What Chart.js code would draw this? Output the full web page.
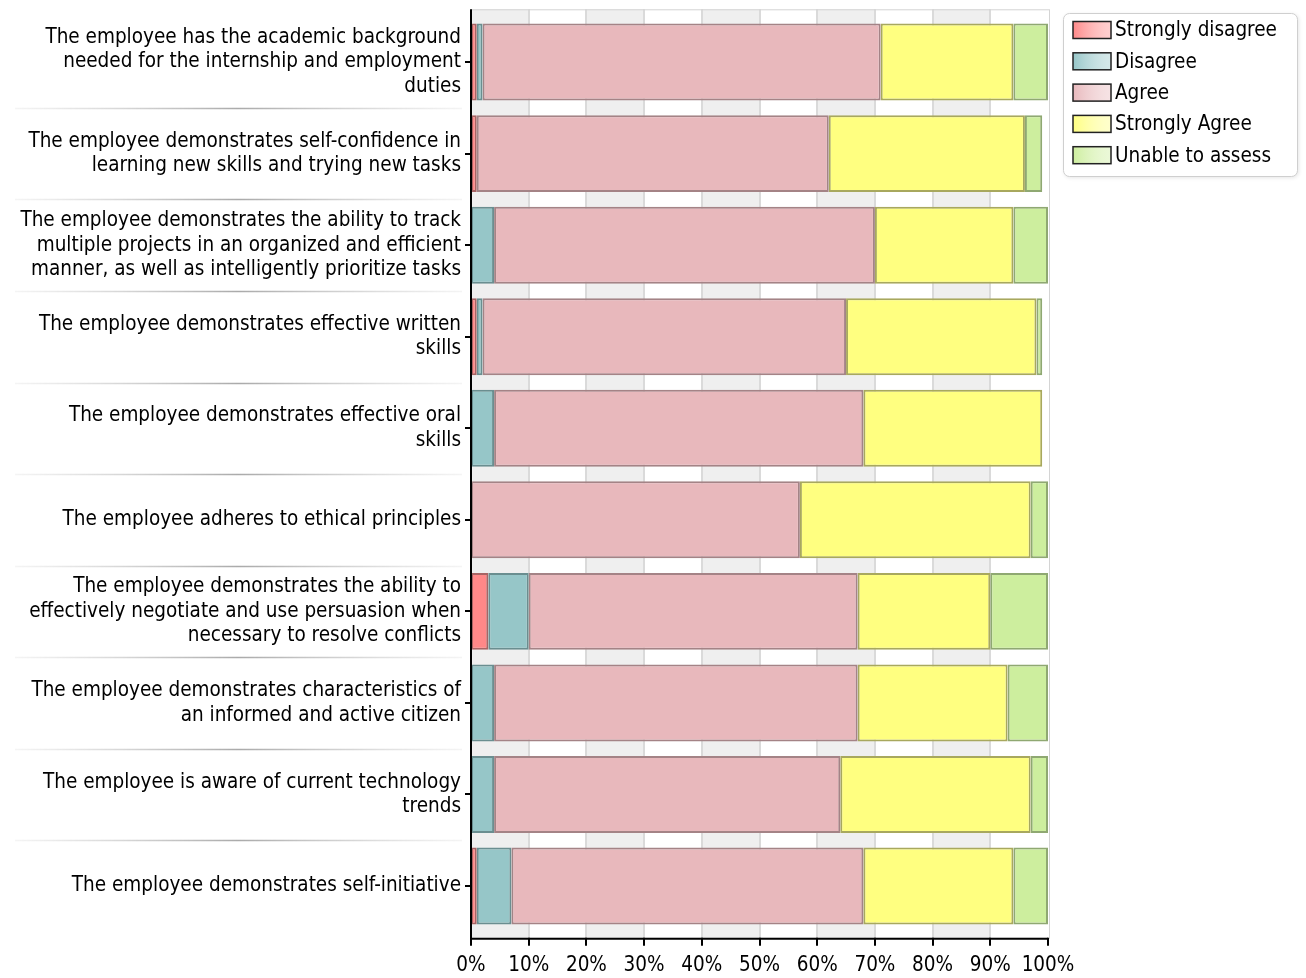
<!DOCTYPE html>
<html lang="en">
  <head>
    <meta charset="UTF-8" />
    <meta name="viewport" content="width=device-width, initial-scale=1.0" />
    <title>Employee evaluation</title>
    <style>
      html,
      body {
        margin: 0;
        padding: 0;
        background-color: white;
      }
      #chart-box {
        width: 1306px;
        height: 978px;
      }
    </style>
  </head>
  <body>
    <script src="https://cdn.jsdelivr.net/npm/chart.js@4.4.1/dist/chart.umd.min.js"></script>
    <div id="chart-box"><canvas id="bar-chart"></canvas></div>
    <script>
      var categories = [
        ["The employee has the academic background", "needed for the internship and employment", "duties"],
        ["The employee demonstrates self-confidence in", "learning new skills and trying new tasks"],
        ["The employee demonstrates the ability to track", "multiple projects in an organized and efficient", "manner, as well as intelligently prioritize tasks"],
        ["The employee demonstrates effective written", "skills"],
        ["The employee demonstrates effective oral", "skills"],
        "The employee adheres to ethical principles",
        ["The employee demonstrates the ability to", "effectively negotiate and use persuasion when", "necessary to resolve conflicts"],
        ["The employee demonstrates characteristics of", "an informed and active citizen"],
        ["The employee is aware of current technology", "trends"],
        "The employee demonstrates self-initiative",
      ];
      var seriesNames = ["Strongly disagree", "Disagree", "Agree", "Strongly Agree", "Unable to assess"];
      var stronglyDisagree = [1, 1, 0, 1, 0, 0, 3, 0, 0, 1];
      var disagree = [1, 0, 4, 1, 4, 0, 7, 4, 4, 6];
      var agree = [69, 61, 66, 63, 64, 57, 57, 63, 60, 61];
      var stronglyAgree = [23, 34, 24, 33, 31, 40, 23, 26, 33, 26];
      var unableToAssess = [6, 3, 6, 1, 0, 3, 10, 7, 3, 6];
      var xTickLabels = ["0%", "10%", "20%", "30%", "40%", "50%", "60%", "70%", "80%", "90%", "100%"];

      var fills = ["#ff8888", "#96c6c8", "#e8b8bc", "#ffff80", "#cdee9e"];
      var edges = ["#a86464", "#6a8e90", "#a48386", "#a8a85e", "#8fa872"];
      var FONT = "'DejaVu Sans Condensed', 'DejaVu Sans', sans-serif";
      var FONT_SIZE = 20.5;

      Chart.defaults.font.family = FONT;
      Chart.defaults.font.size = FONT_SIZE;
      Chart.defaults.color = "#000";

      // bands, grid lines, axes, label separators and the legend box
      var decorations = {
        id: "decorations",
        beforeDatasetsDraw: function (chart) {
          var ctx = chart.ctx;
          var a = chart.chartArea;
          var x = chart.scales.x;
          var top = a.top - 7;
          var bottom = a.bottom + 6;
          ctx.save();
          for (var i = 0; i < 10; i++) {
            var x0 = x.getPixelForValue(i * 10);
            var x1 = x.getPixelForValue(i * 10 + 10);
            ctx.fillStyle = i % 2 ? "#ffffff" : "#efefef";
            ctx.fillRect(x0, top, x1 - x0, bottom - top);
          }
          ctx.strokeStyle = "#dadada";
          ctx.lineWidth = 2;
          for (var j = 1; j < 10; j++) {
            var gx = Math.round(x.getPixelForValue(j * 10));
            ctx.beginPath();
            ctx.moveTo(gx, top);
            ctx.lineTo(gx, bottom);
            ctx.stroke();
          }
          ctx.strokeStyle = "#d4d4d4";
          ctx.lineWidth = 1;
          ctx.strokeRect(a.left + 0.5, top + 0.5, a.right - a.left + 1, bottom - top);
          ctx.restore();
        },
        afterDraw: function (chart) {
          var ctx = chart.ctx;
          var a = chart.chartArea;
          var x = chart.scales.x;
          var y = chart.scales.y;
          var top = a.top - 7;
          var bottom = a.bottom + 6;
          ctx.save();

          // separators between categories in the label area
          for (var i = 0; i < categories.length - 1; i++) {
            var sy = Math.round((y.getPixelForValue(i) + y.getPixelForValue(i + 1)) / 2) + 0.5;
            var g = ctx.createLinearGradient(15, 0, 462, 0);
            g.addColorStop(0, "rgba(200,200,200,0.2)");
            g.addColorStop(0.5, "rgba(170,170,170,1)");
            g.addColorStop(1, "rgba(200,200,200,0.2)");
            ctx.strokeStyle = g;
            ctx.lineWidth = 1.5;
            ctx.beginPath();
            ctx.moveTo(15, sy);
            ctx.lineTo(462, sy);
            ctx.stroke();
          }

          // axis lines
          ctx.strokeStyle = "#000";
          ctx.lineWidth = 2;
          ctx.beginPath();
          ctx.moveTo(a.left, top);
          ctx.lineTo(a.left, bottom + 1);
          ctx.lineTo(a.right, bottom + 1);
          ctx.stroke();
          for (var k = 0; k <= 10; k++) {
            var tx = Math.round(x.getPixelForValue(k * 10));
            ctx.beginPath();
            ctx.moveTo(tx, bottom);
            ctx.lineTo(tx, bottom + 8);
            ctx.stroke();
          }

          // legend
          var lx = 1063, ly = 13, lw = 234, lh = 163;
          ctx.shadowColor = "rgba(0,0,0,0.12)";
          ctx.shadowBlur = 4;
          ctx.shadowOffsetX = 1;
          ctx.shadowOffsetY = 1;
          ctx.fillStyle = "#fff";
          ctx.beginPath();
          ctx.roundRect(lx + 0.5, ly + 0.5, lw, lh, 6);
          ctx.fill();
          ctx.shadowColor = "transparent";
          ctx.strokeStyle = "#cfcfcf";
          ctx.lineWidth = 1;
          ctx.stroke();

          ctx.font = FONT_SIZE + "px " + FONT;
          ctx.textBaseline = "middle";
          ctx.textAlign = "left";
          chart.data.datasets.forEach(function (ds, n) {
            var cy = 30 + n * 31.3;
            var grad = ctx.createLinearGradient(1073, 0, 1111, 0);
            grad.addColorStop(0, ds.backgroundColor);
            grad.addColorStop(1, "rgba(255,255,255,0.6)");
            ctx.fillStyle = ds.backgroundColor;
            ctx.fillRect(1073, cy - 8.5, 38, 17);
            ctx.fillStyle = grad;
            ctx.fillRect(1073, cy - 8.5, 38, 17);
            ctx.strokeStyle = "#222";
            ctx.lineWidth = 1.5;
            ctx.strokeRect(1073, cy - 8.5, 38, 17);
            ctx.fillStyle = "#000";
            ctx.fillText(ds.label, 1115, cy + 1);
          });
          ctx.restore();
        },
      };

      var seriesValues = [stronglyDisagree, disagree, agree, stronglyAgree, unableToAssess];

      var chart = new Chart(document.getElementById("bar-chart"), {
        type: "bar",
        data: {
          labels: categories,
          datasets: seriesNames.map(function (name, i) {
            return {
              label: name,
              data: seriesValues[i],
              backgroundColor: fills[i],
              borderColor: edges[i],
              borderWidth: 2,
              borderSkipped: false,
              barPercentage: 0.84,
              categoryPercentage: 1,
            };
          }),
        },
        options: {
          indexAxis: "y",
          responsive: true,
          maintainAspectRatio: false,
          animation: false,
          layout: {
            padding: { top: 15.7, right: 258, bottom: 0, left: 0 },
          },
          plugins: {
            legend: { display: false },
            tooltip: { enabled: false },
          },
          scales: {
            x: {
              stacked: true,
              min: 0,
              max: 100,
              grid: { display: false, drawTicks: false },
              border: { display: false },
              ticks: {
                stepSize: 10,
                padding: 22,
                maxRotation: 0,
                autoSkip: false,
                callback: function (v, i) {
                  return xTickLabels[i];
                },
              },
              afterFit: function (scale) {
                scale.height = 46.2;
              },
            },
            y: {
              stacked: true,
              grid: {
                display: true,
                drawOnChartArea: false,
                offset: false,
                tickLength: 6,
                color: "#000",
                lineWidth: 2,
              },
              border: { display: false },
              ticks: { padding: 4, autoSkip: false },
              afterFit: function (scale) {
                scale.width = 471;
              },
            },
          },
        },
        plugins: [decorations],
      });
    </script>
  </body>
</html>
